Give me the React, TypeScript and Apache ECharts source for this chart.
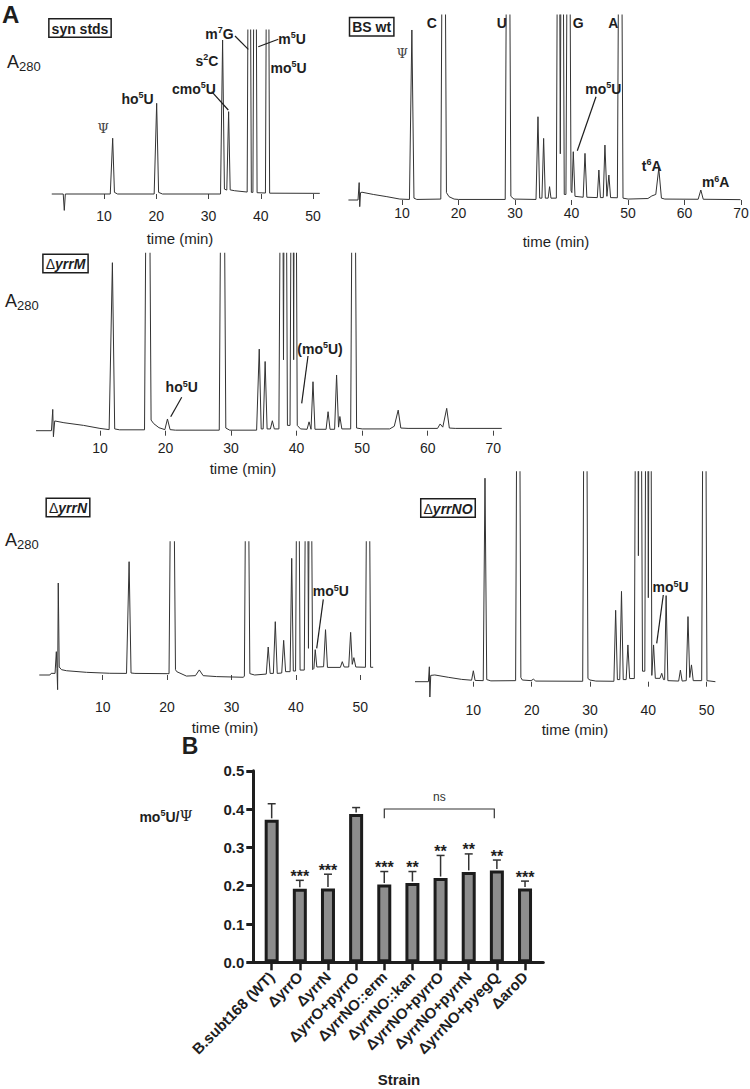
import React, { useEffect, useRef } from "react";
import * as echarts from "echarts";

const FONT = "'Liberation Sans', Arial, Helvetica, sans-serif";
const SERIF = "'DejaVu Serif', 'Liberation Serif', serif";
const INK = "#1e1e1e";
const TRACE = "#333333";

// ---------- Panel A: HPLC traces, [time (min), A280 (100 = top of plot)] ----------
const synStdsTrace: [number, number][] = [
  [0, 0], [2.2, 0], [2.4, -10], [2.6, 0],
  [11.2, 0], [11.66, 34], [12.0, 1], [12.6, 0],
  [19.6, 0], [20.08, 55.3], [20.45, 1], [21.2, 0],
  [32.3, 0], [32.7, 93.9], [33.05, 3], [33.5, 2.4], [33.85, 50.2], [34.15, 2.5], [35, 2],
  [37.4, 1.2], [37.8, 300], [38.2, 1], [38.5, 1], [38.9, 300], [39.3, 0.8],
  [40.9, 0.6], [41.3, 300], [41.7, 0.5], [51.3, 0.4],
];

const bsWtTrace: [number, number][] = [
  [0.5, 0], [2.2, 0], [2.4, 9.4], [2.5, -3.6], [2.65, 4], [2.9, 4.2], [4.9, 3], [7.3, 1.8], [9.6, 0.5],
  [11.3, 0.3], [11.73, 91.9], [12.1, 1], [12.6, 0.3],
  [16.85, 0.5], [17.35, 300], [17.85, 4], [18.3, 1.8], [19.2, 0.5], [20, 0.3],
  [28.25, 0.3], [28.75, 300], [29.25, 2], [29.8, 0.5], [33.7, 0.3],
  [34.05, 45], [34.35, 1], [34.75, 1], [35.05, 33.3], [35.35, 1], [35.85, 1], [36.1, 7.2], [36.35, 1],
  [37.3, 1], [37.7, 300], [38.0, 25], [38.3, 300], [38.7, 3], [39.0, 3], [39.45, 300], [39.9, 5],
  [40.05, 4], [40.3, 26.1], [40.6, 2],
  [42.05, 1.5], [42.37, 25.2], [42.7, 1.5],
  [44.55, 1.3], [44.83, 16.2], [45.1, 1.3], [45.6, 1.3], [45.9, 29.7], [46.25, 2], [46.35, 2], [46.6, 13.5], [46.9, 1.3],
  [48.1, 1.2], [48.6, 300], [49.1, 1], [50.0, 0.5],
  [53.5, 0.8], [54.2, 2.2], [54.9, 3], [55.43, 17.1], [55.9, 1], [56.5, 0.5],
  [62.4, 0.4], [62.87, 5.4], [63.3, 0.4], [69.9, 0.2],
];

const yrrMTrace: [number, number][] = [
  [0.25, 0], [2.6, 0], [2.8, 12], [2.9, -3.4], [3.1, 5.5], [4.5, 4.5], [7.5, 3], [10, 1.3],
  [11.4, 0.6], [11.9, 94.7], [12.25, 1], [13, 0.5],
  [16.8, 0.5], [17.3, 300], [17.8, 6], [18.2, 4], [19, 1.7], [19.9, 0.6], [20.3, 6.6], [20.7, 0.6], [21.5, 0.3],
  [28.2, 0.3], [28.7, 300], [29.2, 1.5], [29.8, 0.3], [33.9, 0.3],
  [34.3, 46], [34.6, 1], [34.9, 1], [35.2, 39], [35.5, 1], [36.0, 1], [36.3, 5.6], [36.6, 1],
  [37.3, 1], [37.75, 300], [38.0, 40], [38.25, 300], [38.6, 3], [39.0, 3],
  [39.35, 300], [39.55, 40], [39.75, 300], [40.1, 3], [40.6, 1],
  [41.6, 0.8], [41.9, 5], [42.2, 0.8], [42.5, 27.6], [42.8, 0.8],
  [44.5, 0.8], [44.8, 10.7], [45.1, 0.8], [45.8, 0.8], [46.1, 31.4], [46.4, 2], [46.6, 8], [46.9, 1],
  [48.25, 1], [48.7, 300], [49.15, 1.5], [50, 1],
  [54.2, 1], [54.9, 2.5], [55.5, 11.6], [55.9, 1.5], [57, 1.3],
  [61.5, 1.3], [61.9, 3.8], [62.3, 2], [62.9, 12.6], [63.3, 1.5], [64.2, 1.3], [71.3, 1.3],
];

const yrrNTrace: [number, number][] = [
  [0.15, 0], [1.8, 0], [2.0, 1.25], [2.6, 1.2], [2.8, 17.5], [2.9, 5], [3.0, -11], [3.1, 69], [3.25, 6],
  [3.6, 4], [4.4, 3.2], [7.5, 2], [11.1, 1.3], [13.7, 1.2], [14.1, 85], [14.4, 1.5], [15, 1.2], [20, 1.0],
  [20.3, 1], [20.8, 300], [21.3, 4], [21.5, 2.5], [23, -0.8], [24.4, -0.5], [25, 3.8], [25.6, -0.5],
  [27.7, -1.2], [31.8, -1.7], [32.0, -1], [32.4, 300], [32.85, 1], [33.6, 0], [35.4, 0.7],
  [35.7, 21], [36.0, 1.2], [36.5, 1.2], [36.8, 40], [37.1, 1.2], [37.8, 1.5], [38.1, 26], [38.4, 2.5],
  [39.1, 2.5], [39.35, 87.5], [39.6, 3], [39.95, 3], [40.3, 300], [40.65, 3.7], [41.3, 3.7],
  [41.7, 300], [41.95, 20], [42.2, 300], [42.6, 4], [42.8, 5], [43.0, 19], [43.25, 6],
  [44.3, 6.2], [44.6, 34], [44.9, 5.7], [46.9, 5.7], [47.2, 10], [47.5, 6], [48.2, 6], [48.5, 32],
  [48.75, 8], [49.0, 13], [49.3, 6], [50.8, 5.8], [51.2, 300], [51.6, 5.8], [52.0, 5.8],
];

const yrrNOTrace: [number, number][] = [
  [0, 0], [2.3, 0], [2.46, 7.1], [2.55, -7.3], [2.7, 3], [3.4, 3.2], [5.7, 2.1], [8, 1.1],
  [9.7, 0.7], [10.0, 5.2], [10.3, 0.6], [11.7, 0.5], [12.0, 96.9], [12.3, 1], [13, 0.4],
  [17.25, 0.5], [17.7, 300], [18.15, 2], [18.4, 0.8], [19.9, 0.5], [20.3, 1.2], [20.7, 0.3],
  [28.75, 0.2], [29.2, 300], [29.65, 1.5], [30.0, 0.8], [31, 0.3], [34.1, 0.2],
  [34.4, 34], [34.7, 1], [35.1, 1], [35.4, 43], [35.7, 1], [36.2, 1], [36.5, 17.5], [36.8, 1.5],
  [37.6, 1.5], [38.05, 300], [38.3, 60], [38.55, 300], [39.0, 5], [39.4, 5],
  [39.75, 300], [40.0, 40], [40.3, 300], [40.6, 3],
  [40.9, 17.5], [41.2, 1.6], [42.0, 1.6], [42.3, 4], [42.6, 1], [42.8, 1], [43.05, 41], [43.35, 0.5],
  [45.2, 0.3], [45.5, 5.5], [45.8, 0.3], [46.5, 0.5], [46.8, 31], [47.1, 2], [47.4, 8], [47.7, 0.5],
  [49.15, 0.5], [49.6, 300], [50.05, 0.5], [51.5, 0],
];

const synStdsTicks = [10, 20, 30, 40, 50];
const bsWtTicks = [10, 20, 30, 40, 50, 60, 70];
const yrrMTicks = [10, 20, 30, 40, 50, 60, 70];
const yrrNTicks = [10, 20, 30, 40, 50];
const yrrNOTicks = [10, 20, 30, 40, 50];

// ---------- Panel B: mo5U / Psi ratio ----------
const strains = [
  "B.subt168 (WT)", "ΔyrrO", "ΔyrrN", "ΔyrrO+pyrrO", "ΔyrrNO::erm",
  "ΔyrrNO::kan", "ΔyrrNO+pyrrO", "ΔyrrNO+pyrrN", "ΔyrrNO+pyegQ", "ΔaroD",
];
const ratioMeans = [0.372, 0.192, 0.193, 0.387, 0.203, 0.207, 0.220, 0.236, 0.240, 0.193];
const ratioSD = [0.042, 0.022, 0.037, 0.017, 0.034, 0.030, 0.059, 0.047, 0.027, 0.019];
const significance = ["", "***", "***", "", "***", "**", "**", "**", "**", "***"];

// ---------- layout of the chromatogram panels ----------
const panels = [
  { trace: synStdsTrace, ticks: synStdsTicks, left: 51.75, pxPerMin: 5.225, maxMin: 52, top: 30, baseline: 194, pxPerUnit: 1.64, minVal: -10, tickY: 202, labelY: 216 },
  { trace: bsWtTrace, ticks: bsWtTicks, left: 345.6, pxPerMin: 5.65, maxMin: 70.5, top: 15, baseline: 200, pxPerUnit: 1.85, minVal: -5, tickY: 202, labelY: 213 },
  { trace: yrrMTrace, ticks: yrrMTicks, left: 34.4, pxPerMin: 6.555, maxMin: 72, top: 253.3, baseline: 430.7, pxPerUnit: 1.774, minVal: -5, tickY: 431.5, labelY: 448 },
  { trace: yrrNTrace, ticks: yrrNTicks, left: 38.3, pxPerMin: 6.44, maxMin: 53, top: 541.7, baseline: 675, pxPerUnit: 1.333, minVal: -12, tickY: 685, labelY: 706.7 },
  { trace: yrrNOTrace, ticks: yrrNOTicks, left: 415, pxPerMin: 5.833, maxMin: 52, top: 471.7, baseline: 681.7, pxPerUnit: 2.1, minVal: -8, tickY: 692, labelY: 710 },
];

const supRich = {
  b: { fontFamily: FONT, fontSize: 14, fontWeight: "bold", fill: INK, verticalAlign: "bottom" },
  s: { fontFamily: FONT, fontSize: 9, fontWeight: "bold", fill: INK, verticalAlign: "bottom", padding: [0, 0, 6, 0] },
  p: { fontFamily: SERIF, fontSize: 15, fontWeight: "normal", fill: INK, verticalAlign: "bottom" },
};
const aRich = {
  a: { fontFamily: FONT, fontSize: 18, fill: INK, verticalAlign: "bottom", padding: [0, 0, 2, 0] },
  s: { fontFamily: FONT, fontSize: 13, fill: INK, verticalAlign: "bottom" },
};
const boxRich = {
  d: { fontFamily: FONT, fontSize: 14, fill: INK },
  i: { fontFamily: FONT, fontSize: 14, fontWeight: "bold", fontStyle: "italic", fill: INK },
  n: { fontFamily: FONT, fontSize: 14, fontWeight: "bold", fill: INK },
};

function sup(a: string, s: string, b: string) {
  return `{b|${a}}{s|${s}}{b|${b}}`;
}
function T(x: number, y: number, text: string, style: any = {}) {
  return {
    type: "text", x, y, silent: true, z: 100,
    style: { text, align: "center", verticalAlign: "middle", fontFamily: FONT, fontSize: 14, fontWeight: "bold", fill: INK, ...style },
  };
}
function R(x: number, y: number, text: string) {
  return T(x, y, text, { rich: supRich });
}
function L(x1: number, y1: number, x2: number, y2: number) {
  return { type: "line", silent: true, z: 100, shape: { x1, y1, x2, y2 }, style: { stroke: INK, lineWidth: 1.2 } };
}
function Box(x: number, y: number, text: string) {
  return T(x, y, text, { rich: boxRich, borderColor: INK, borderWidth: 1.5, padding: [2, 2, 1, 2], backgroundColor: "#fff" });
}
function A280(x: number, y: number) {
  return T(x, y, "{a|A}{s|280}", { rich: aRich, align: "left" });
}
function TimeLabel(x: number, y: number) {
  return T(x, y, "time (min)", { fontWeight: "normal", fontSize: 15 });
}

export default function App() {
  const ref = useRef<HTMLDivElement>(null);
  useEffect(() => {
    if (!ref.current) return;
    const chart = echarts.init(ref.current, null, { renderer: "svg" });

    const grids: any[] = [];
    const xAxes: any[] = [];
    const yAxes: any[] = [];
    const series: any[] = [];

    panels.forEach((p, k) => {
      const bottomY = p.baseline - p.minVal * p.pxPerUnit;
      grids.push({ left: p.left, top: p.top, width: p.maxMin * p.pxPerMin, height: bottomY - p.top, containLabel: false, outerBoundsMode: "none" });
      xAxes.push({
        gridIndex: k, type: "value", min: 0, max: p.maxMin, offset: p.tickY - bottomY,
        axisLine: { show: false }, splitLine: { show: false },
        axisTick: { show: true, length: 5, customValues: p.ticks, lineStyle: { color: "#444", width: 1 } },
        axisLabel: { customValues: p.ticks, fontSize: 14, fontFamily: FONT, color: INK, margin: p.labelY - 7 - p.tickY },
      });
      yAxes.push({ gridIndex: k, type: "value", min: p.minVal, max: 100, show: false });
      series.push({
        type: "line", xAxisIndex: k, yAxisIndex: k, data: p.trace, showSymbol: false, symbol: "none",
        lineStyle: { color: TRACE, width: 1 }, clip: true, silent: true,
      });
    });

    // Panel B bar chart
    grids.push({ left: 257.6, top: 770.8, width: 281.5, height: 191.5, containLabel: false, outerBoundsMode: "none" });
    xAxes.push({
      gridIndex: 5, type: "category", data: strains,
      axisLine: { show: false },
      axisTick: { show: true, alignWithLabel: true, length: 8, lineStyle: { width: 2.5, color: INK } },
      axisLabel: { interval: 0, rotate: 45, fontSize: 15, fontWeight: "bold", fontFamily: FONT, color: INK, margin: 12 },
    });
    yAxes.push({
      gridIndex: 5, type: "value", min: 0, max: 0.5, interval: 0.1, offset: 4.3,
      axisLine: { show: true, lineStyle: { width: 3, color: INK } },
      axisTick: { show: true, length: 7, lineStyle: { width: 3, color: INK } },
      axisLabel: { fontSize: 15, fontWeight: "bold", fontFamily: FONT, color: INK, margin: 9, formatter: (v: number) => v.toFixed(1) },
      splitLine: { show: false },
    });
    // full-length x axis line
    grids.push({ left: 253.3, top: 770.8, width: 290, height: 191.5, containLabel: false, outerBoundsMode: "none" });
    xAxes.push({
      gridIndex: 6, type: "value", min: 0, max: 1,
      axisLine: { show: true, lineStyle: { width: 3, color: INK } },
      axisTick: { show: false }, axisLabel: { show: false }, splitLine: { show: false },
    });
    yAxes.push({ gridIndex: 6, type: "value", min: 0, max: 1, show: false });

    series.push({
      type: "bar", xAxisIndex: 5, yAxisIndex: 5, data: ratioMeans, barWidth: 14, z: 2,
      itemStyle: { color: "#8d8d8d", borderColor: "#1c1c1c", borderWidth: 3 },
    });
    series.push({
      type: "custom", xAxisIndex: 5, yAxisIndex: 5, z: 3, clip: false,
      data: strains.map((_, i) => [i, ratioMeans[i], ratioSD[i]]),
      encode: { x: 0, y: 1 },
      renderItem: (params: any, api: any) => {
        const i = api.value(0);
        const m = api.value(1);
        const e = api.value(2);
        const base = api.coord([i, m]);
        const top = api.coord([i, m + e]);
        const sig = significance[params.dataIndex];
        return {
          type: "group",
          children: [
            { type: "line", shape: { x1: base[0], y1: base[1] - 1.5, x2: top[0], y2: top[1] }, style: { stroke: "#333", lineWidth: 1.5 } },
            { type: "line", shape: { x1: top[0] - 4, y1: top[1], x2: top[0] + 4, y2: top[1] }, style: { stroke: "#333", lineWidth: 1.5 } },
            {
              type: "text", x: top[0], y: top[1] + 4,
              style: { text: sig, align: "center", verticalAlign: "bottom", fontFamily: FONT, fontSize: 16, fontWeight: "bold", fill: INK },
            },
          ],
        };
      },
    });

    const graphics: any[] = [
      // Panel letters
      T(2, 14, "A", { align: "left", fontSize: 24 }),
      T(190, 746, "B", { fontSize: 23 }),
      // syn stds
      Box(80, 28, "{n|syn stds}"),
      A280(7, 63),
      T(103.3, 128.3, "Ψ", { fontFamily: SERIF, fontWeight: "normal", fontSize: 13, fill: "#444" }),
      R(137.5, 98, sup("ho", "5", "U")),
      R(194, 88, sup("cmo", "5", "U")),
      R(207, 60, sup("s", "2", "C")),
      R(219.5, 33, sup("m", "7", "G")),
      R(292, 38, sup("m", "5", "U")),
      R(288.5, 67, sup("mo", "5", "U")),
      L(211.7, 91.7, 228.3, 110),
      L(235, 36, 248.3, 49.3),
      L(278.3, 39.3, 258.3, 46.7),
      TimeLabel(180, 238),
      // BS wt
      Box(371.7, 26.7, "{n|BS wt}"),
      T(402.3, 53.3, "Ψ", { fontFamily: SERIF, fontWeight: "normal", fontSize: 13, fill: "#444" }),
      T(431.7, 23.3, "C"),
      T(501.7, 23.3, "U"),
      T(578.3, 23.3, "G"),
      T(613.3, 23.3, "A"),
      R(603.3, 88.3, sup("mo", "5", "U")),
      L(596, 96.7, 577.3, 150.7),
      R(651.7, 165, sup("t", "6", "A")),
      R(715.7, 181.7, sup("m", "6", "A")),
      TimeLabel(556, 241),
      // ΔyrrM
      Box(65.5, 263.5, "{d|Δ}{i|yrrM}"),
      A280(5, 302),
      R(181.7, 386.7, sup("ho", "5", "U")),
      L(181.7, 397.3, 170.7, 416.7),
      R(320, 348, sup("(mo", "5", "U)")),
      L(308, 356, 301.7, 403.3),
      TimeLabel(243, 468),
      // ΔyrrN
      Box(68, 507.5, "{d|Δ}{i|yrrN}"),
      A280(5, 541),
      R(330.8, 590.8, sup("mo", "5", "U")),
      L(323.3, 599.3, 316.7, 648.3),
      TimeLabel(225, 727),
      // ΔyrrNO
      Box(448, 508, "{d|Δ}{i|yrrNO}"),
      R(670.5, 586.7, sup("mo", "5", "U")),
      L(663.3, 595, 656.7, 643.3),
      TimeLabel(575, 729),
      // Panel B annotations
      T(166, 816, "{b|mo}{s|5}{b|U/}{p|Ψ}", { rich: supRich }),
      {
        type: "polyline", silent: true, z: 100,
        shape: { points: [[384.3, 818.3], [384.3, 809], [494.3, 809], [494.3, 818.3]] },
        style: { stroke: "#333", lineWidth: 1.2, fill: null },
      },
      T(439.3, 797.3, "ns", { fontWeight: "normal", fontSize: 12, fill: "#333" }),
      T(399, 1079, "Strain", { fontSize: 15 }),
    ];

    chart.setOption({
      animation: false,
      backgroundColor: "#ffffff",
      grid: grids,
      xAxis: xAxes,
      yAxis: yAxes,
      series,
      graphic: { elements: graphics },
    });
    return () => chart.dispose();
  }, []);

  return (
    <div
      ref={ref}
      style={{ position: "absolute", left: 0, top: 0, width: 750, height: 1089, background: "#fff" }}
    />
  );
}
